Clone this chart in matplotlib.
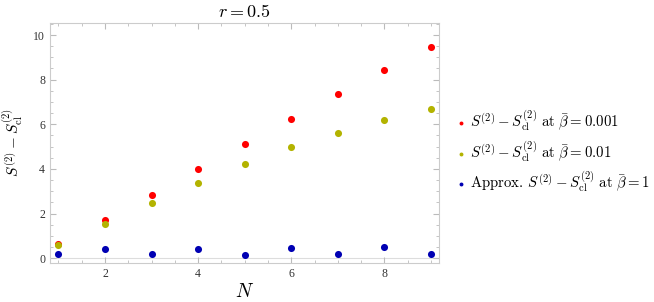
import numpy as np
import matplotlib.pyplot as plt
from matplotlib.ticker import MultipleLocator

plt.rcParams['mathtext.fontset'] = 'cm'
plt.rcParams['font.family'] = ['Liberation Serif', 'DejaVu Serif']

N = [1, 2, 3, 4, 5, 6, 7, 8, 9]
s_beta_0001 = [0.63, 1.69, 2.82, 3.98, 5.11, 6.23, 7.35, 8.43, 9.48]
s_beta_001 = [0.57, 1.54, 2.48, 3.38, 4.22, 4.96, 5.60, 6.19, 6.68]
s_beta_1_approx = [0.18, 0.42, 0.18, 0.39, 0.15, 0.45, 0.18, 0.49, 0.19]

labels = [r"$S^{(2)} - S^{(2)}_{\mathrm{cl}}\ \mathrm{at}\ \bar{\beta} = 0.001$",
          r"$S^{(2)} - S^{(2)}_{\mathrm{cl}}\ \mathrm{at}\ \bar{\beta} = 0.01$",
          r"$\mathrm{Approx.}\,S^{(2)} - S^{(2)}_{\mathrm{cl}}\ \mathrm{at}\ \bar{\beta} = 1$"]
colors = ['#ff0000', '#b3b300', '#0000b3']

fig = plt.figure(figsize=(6.54, 3.02), dpi=100)
ax = fig.add_axes([0.0765, 0.129, 0.5945, 0.795])

handles = []
for ys, c, lab in zip([s_beta_0001, s_beta_001, s_beta_1_approx], colors, labels):
    h = ax.scatter(N, ys, s=26, color=c, label=lab, zorder=3, linewidths=0)
    handles.append(h)

ax.set_xlim(0.82, 9.17)
ax.set_ylim(-0.22, 10.54)
ax.axhline(0, color='#dddddd', lw=0.8, zorder=1)

ax.xaxis.set_major_locator(MultipleLocator(2))
ax.xaxis.set_minor_locator(MultipleLocator(0.5))
ax.yaxis.set_major_locator(MultipleLocator(2))
ax.yaxis.set_minor_locator(MultipleLocator(0.5))
ax.tick_params(which='both', direction='in', top=True, right=True,
               color='#bbbbbb', labelsize=8.5, labelcolor='#333333')
ax.tick_params(which='major', length=4, width=0.8)
ax.tick_params(which='minor', length=2.2, width=0.6)
for sp in ax.spines.values():
    sp.set_color('#cccccc')

ax.set_title(r"$r = 0.5$", fontsize=13, pad=4)
ax.set_xlabel(r"$N$", fontsize=14, labelpad=2)
ax.set_ylabel(r"$S^{(2)} - S^{(2)}_{\mathrm{cl}}$", fontsize=11, labelpad=6)

fig.legend(handles=handles, loc='upper left', bbox_to_anchor=(0.685, 0.66),
           frameon=False, fontsize=10.7, handletextpad=0.05, labelspacing=0.4,
           handlelength=1.0, markerscale=0.55, borderaxespad=0)

fig.savefig('out.png', dpi=100)
